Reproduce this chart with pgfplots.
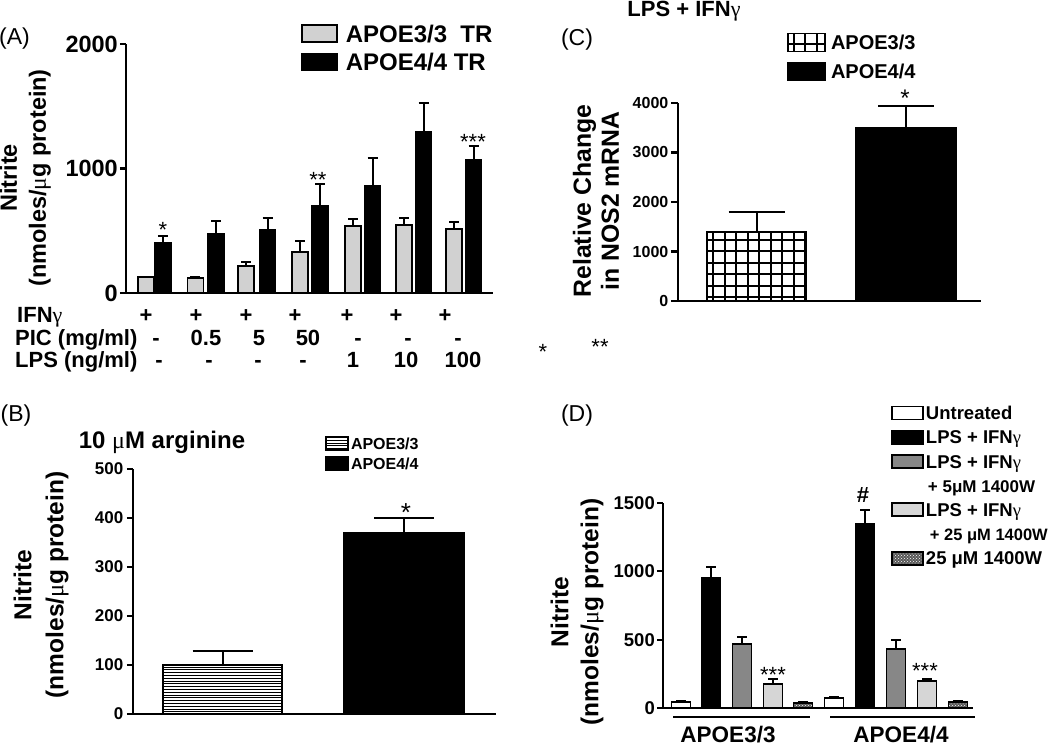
\documentclass[border=0pt]{standalone}
\usepackage{pgfplots}
\pgfplotsset{compat=1.18}
\usepackage{fontspec}
\setmainfont{Liberation Sans}
\newfontfamily\symf{Liberation Serif}
\usetikzlibrary{patterns}
\newcommand{\fs}[1]{\fontsize{#1}{#1}\selectfont}
\newcommand{\gam}{{\mdseries\upshape\symf γ}}
\newcommand{\mus}{{\mdseries\upshape\symf μ}}

\pgfdeclarepatternformonly{hlines}{\pgfqpoint{-1pt}{-1pt}}{\pgfqpoint{11pt}{3.8pt}}{\pgfqpoint{10pt}{2.8pt}}{%
  \pgfsetlinewidth{0.9pt}%
  \pgfpathmoveto{\pgfqpoint{-1pt}{0.5pt}}\pgfpathlineto{\pgfqpoint{11pt}{0.5pt}}\pgfusepath{stroke}}
\pgfdeclarepatternformonly{biggrid}{\pgfqpoint{-1.5pt}{-1.5pt}}{\pgfqpoint{13pt}{13pt}}{\pgfqpoint{11.5pt}{11.5pt}}{%
  \pgfsetlinewidth{2pt}%
  \pgfpathmoveto{\pgfqpoint{-1.5pt}{0pt}}\pgfpathlineto{\pgfqpoint{13pt}{0pt}}%
  \pgfpathmoveto{\pgfqpoint{0pt}{-1.5pt}}\pgfpathlineto{\pgfqpoint{0pt}{13pt}}%
  \pgfusepath{stroke}}

\pgfplotsset{
  panel/.style={
    scale only axis, axis lines=left, axis line style={-, line width=2.2pt},
    xmin=0, ymin=0, xtick=\empty, tick align=outside, major tick length=6pt,
    ytick style={black, line width=2.2pt},
    clip=false,
    /pgf/number format/assume math mode=true, /pgf/number format/1000 sep={},
    scaled y ticks=false,
    legend cell align=left,
    legend style={draw=none, fill=none, inner sep=0pt, outer sep=0pt, anchor=north west},
    error bars/y dir=plus, error bars/y explicit,
    error bars/error bar style={line width=2pt, black},
  },
  legbox/.style 2 args={legend image code/.code={\draw[##1, line width=1.8pt] (0pt,-#2) rectangle (#1,#2);}},
  bars/.style={ybar, bar shift=0pt, draw=black, line width=1.8pt},
}

\begin{document}
\begin{tikzpicture}[x=1pt,y=1pt]
\path[use as bounding box] (0,0) rectangle (1050,-746);

% ---------------- Panel A ----------------
\begin{axis}[panel, at={(126pt,-293pt)}, anchor=south west,
  width=367pt, height=249pt, xmax=367, ymax=2000, ytick={0,1000,2000},
  yticklabel style={font=\bfseries\fs{23.5}, inner sep=2pt},
  ylabel={Nitrite\\(nmoles/\mus g protein)},
  ylabel style={font=\bfseries\fontsize{23.5}{29}\selectfont, align=center, at={(axis description cs:-0.274,0.462)}, anchor=center},
  error bars/error mark options={rotate=90, mark size=5pt, line width=2pt, black},
  legend style={at={(0.4768,1.0944)}, font=\bfseries\fs{24}, row sep=2.5pt,
    nodes={inner sep=0pt, text height=21.6pt, text depth=4.4pt},
    /tikz/every odd column/.append style={column sep=8pt}},
]
\addplot[bars, bar width=16pt, fill=black!18, legbox={35pt}{8.5pt}] table[x=x, y=y, y error=e] {
x y e
20 127 5
69.5 122 8
120 214 32
174 327 92
227 535 62
278 546 57
328 516 52
};
\addplot[bars, bar width=16pt, fill=black, legbox={35pt}{8.5pt}] table[x=x, y=y, y error=e] {
x y e
37 400 54
90 473 108
141.5 503 100
194 703 170
246.5 859 222
297.5 1297 227
347.5 1073 111
};
\legend{APOE3/3\ \ TR, APOE4/4 TR}
\end{axis}

% ---------------- Panel B ----------------
\begin{axis}[panel, at={(133pt,-714pt)}, anchor=south west,
  width=363pt, height=245pt, xmax=363, ymax=500, ytick={0,100,...,500},
  yticklabel style={font=\bfseries\fs{17}, inner sep=3.5pt},
  ylabel={Nitrite\\(nmoles/\mus g protein)},
  ylabel style={font=\bfseries\fontsize{24.5}{32}\selectfont, align=center, at={(axis description cs:-0.253,0.527)}, anchor=center},
  error bars/error mark options={rotate=90, mark size=30pt, line width=2pt, black},
  legend style={at={(0.5295,1.1394)}, font=\bfseries\fs{16}, row sep=2.7pt,
    nodes={inner sep=0pt, text height=14.4pt, text depth=2.9pt},
    /tikz/every odd column/.append style={column sep=2pt}},
]
\addplot[bars, bar width=119pt, pattern=hlines, legbox={22pt}{6.5pt}] table[x=x, y=y, y error=e] {
x y e
89.5 100 28
};
\addplot[bars, bar width=120pt, fill=black, legbox={22pt}{6.5pt}] table[x=x, y=y, y error=e] {
x y e
271 369 31
};
\legend{APOE3/3, APOE4/4}
\end{axis}

% ---------------- Panel C ----------------
\begin{axis}[panel, at={(678pt,-301pt)}, anchor=south west,
  width=303pt, height=198pt, xmax=303, ymax=4000, ytick={0,1000,...,4000},
  yticklabel style={font=\bfseries\fs{16}, inner sep=2.5pt}, major tick length=7pt,
  ylabel={Relative Change\\in NOS2 mRNA},
  ylabel style={font=\bfseries\fontsize{24.8}{28}\selectfont, align=center, at={(axis description cs:-0.271,0.505)}, anchor=center},
  error bars/error mark options={rotate=90, mark size=28pt, line width=2pt, black},
  legend style={at={(0.3604,1.3604)}, font=\bfseries\fs{20}, row sep=7.3pt,
    nodes={inner sep=0pt, text height=18pt, text depth=3.7pt},
    /tikz/every odd column/.append style={column sep=5pt}},
]
\addplot[bars, bar width=99pt, pattern=biggrid, legbox={37pt}{9pt}] table[x=x, y=y, y error=e] {
x y e
78.5 1400 390
};
\addplot[bars, bar width=100pt, fill=black, legbox={37pt}{9pt}] table[x=x, y=y, y error=e] {
x y e
228 3507 440
};
\legend{APOE3/3, APOE4/4}
\end{axis}

% ---------------- Panel D ----------------
\begin{axis}[panel, at={(663pt,-708pt)}, anchor=south west,
  width=310pt, height=205pt, xmax=310, ymax=1500, ytick={0,500,1000,1500},
  yticklabel style={font=\bfseries\fs{18.5}, inner sep=2pt},
  ylabel={Nitrite\\(nmoles/\mus g protein)},
  ylabel style={font=\bfseries\fontsize{24.5}{30}\selectfont, align=center, at={(axis description cs:-0.277,0.468)}, anchor=center},
  error bars/error mark options={rotate=90, mark size=5pt, line width=2pt, black},
  legend style={at={(0.736,1.4878)}, font=\bfseries\fs{18.5}, row sep=4.15pt,
    nodes={inner sep=0pt, text height=16.65pt, text depth=3.4pt},
    /tikz/every odd column/.append style={column sep=2pt}},
]
\addplot[bars, bar width=19pt, fill=white, legbox={31pt}{6.5pt}] table[x=x, y=y, y error=e] {
x y e
18 44 5
171 73 5
};
\addplot[bars, bar width=19pt, fill=black, legbox={31pt}{6.5pt}] table[x=x, y=y, y error=e] {
x y e
48 951 81
202 1349 97
};
\addplot[bars, bar width=19pt, fill=black!47, legbox={31pt}{6.5pt}] table[x=x, y=y, y error=e] {
x y e
79 471 46
233 432 63
};
\addlegendimage{empty legend}
\addplot[bars, bar width=19pt, fill=black!16, legbox={31pt}{6.5pt}] table[x=x, y=y, y error=e] {
x y e
110 178 34
264 195 20
};
\addlegendimage{empty legend}
\addplot[bars, bar width=19pt, fill=black!65, postaction={pattern=crosshatch dots, pattern color=white}, legbox={31pt}{6.5pt}] table[x=x, y=y, y error=e] {
x y e
140 37 5
295 44 5
};
\legend{Untreated, LPS + IFN\gam, LPS + IFN\gam, {\fs{17}\hspace{2pt}+ 5μM 1400W}, LPS + IFN\gam, {\fs{16.5}\hspace{4pt}+ 25 μM 1400W}, 25 μM 1400W}
\end{axis}

% ---------------- Annotations ----------------
\node[font=\fs{23}, anchor=base west, inner sep=0pt] at (-1,-45) {(A)};
\node[font=\fs{23}, anchor=base, inner sep=0pt] at (16,-421) {(B)};
\node[font=\fs{23}, anchor=base, inner sep=0pt] at (577,-46) {(C)};
\node[font=\fs{23}, anchor=base, inner sep=0pt] at (577,-421) {(D)};
\node[font=\bfseries\fs{22}, anchor=base, inner sep=0pt] at (684,-17) {LPS + IFN\gam};
\node[font=\bfseries\fs{24}, anchor=base, inner sep=0pt] at (162,-448) {10 \mus M arginine};

% Panel A treatment table
\begin{scope}[every node/.style={font=\bfseries\fs{22}, anchor=base, inner sep=0pt}]
\node[anchor=base west] at (17,-323) {IFN\gam};
\node[anchor=base west] at (15,-345) {PIC (mg/ml)};
\node[anchor=base west] at (15,-367) {LPS (ng/ml)};
\foreach \x in {146,196,246,295,347,396,445} \node at (\x,-323) {+};
\node at (156,-345) {-}; \node at (206,-345) {0.5}; \node at (259,-345) {5}; \node at (308,-345) {50};
\node at (358,-345) {-}; \node at (408,-345) {-}; \node at (458,-345) {-};
\node at (159,-367) {-}; \node at (209,-367) {-}; \node at (258,-367) {-}; \node at (303,-367) {-};
\node at (353,-367) {1}; \node at (406,-367) {10}; \node at (463,-367) {100};
\end{scope}

% significance marks
\begin{scope}[every node/.style={font=\fs{22}, anchor=base, inner sep=0pt}]
\node at (163,-237.5) {*};
\node at (318,-187.5) {**};
\node at (473,-149.5) {***};
\node at (543,-359.5) {*};
\node at (600,-354.5) {**};
\node at (773,-682.5) {***};
\node at (925,-678.5) {***};
\node[font=\fs{26}] at (406,-521.8) {*};
\node[font=\fs{24}] at (905,-106.7) {*};
\node[font=\bfseries\fs{22}] at (863,-502.7) {\#};
\end{scope}

% Panel D group brackets and labels
\draw[line width=2pt] (673,-717) -- (810,-717);
\draw[line width=2pt] (830,-717) -- (975,-717);
\node[font=\bfseries\fs{22.5}, anchor=base, inner sep=0pt] at (728,-742) {APOE3/3};
\node[font=\bfseries\fs{22.5}, anchor=base, inner sep=0pt] at (901,-742) {APOE4/4};
\end{tikzpicture}
\end{document}
